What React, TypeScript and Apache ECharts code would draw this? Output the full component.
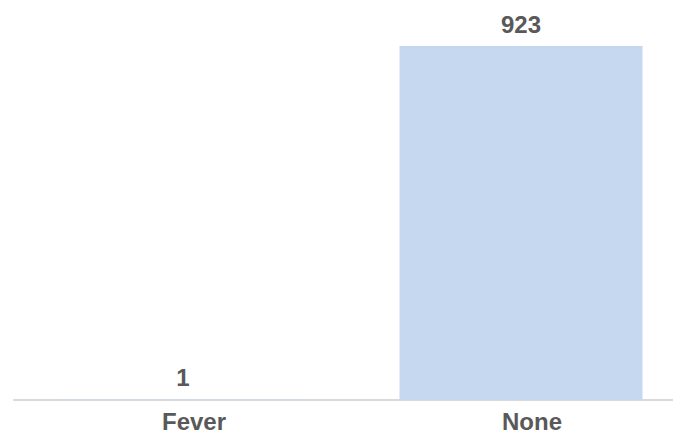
import React, { useEffect, useRef } from "react";
import * as echarts from "echarts";

const categories = ["Fever", "None"];
const values = [1, 923];

const FONT = "'Liberation Sans', Arial, sans-serif";

export default function App() {
  const ref = useRef<HTMLDivElement>(null);
  useEffect(() => {
    if (!ref.current) return;
    const chart = echarts.init(ref.current, undefined, { renderer: "svg" });
    chart.setOption({
      animation: false,
      grid: { left: 14, right: 0, top: 46, bottom: 34, containLabel: false },
      xAxis: {
        type: "category",
        data: categories,
        axisLine: { show: true, lineStyle: { color: "#d9d9d9", width: 2 } },
        axisTick: { show: false },
        axisLabel: {
          color: "#595959",
          fontSize: 24,
          fontWeight: "bold",
          fontFamily: FONT,
          margin: 9,
          padding: [0, 0, 0, 22],
        },
        splitLine: { show: false },
      },
      yAxis: {
        type: "value",
        min: 0,
        max: 923,
        show: false,
        splitLine: { show: false },
      },
      series: [
        {
          type: "bar",
          data: values,
          barWidth: 243,
          itemStyle: { color: "#c5d8ef" },
          label: {
            show: true,
            position: "top",
            distance: 10,
            color: "#595959",
            fontSize: 24,
            fontWeight: "bold",
            fontFamily: FONT,
          },
        },
      ],
    });
    return () => chart.dispose();
  }, []);
  return (
    <div style={{ position: "fixed", left: 0, top: 0, width: 673, height: 434, overflow: "hidden", background: "#fff" }}>
      <div ref={ref} style={{ width: 690, height: 434 }} />
    </div>
  );
}
